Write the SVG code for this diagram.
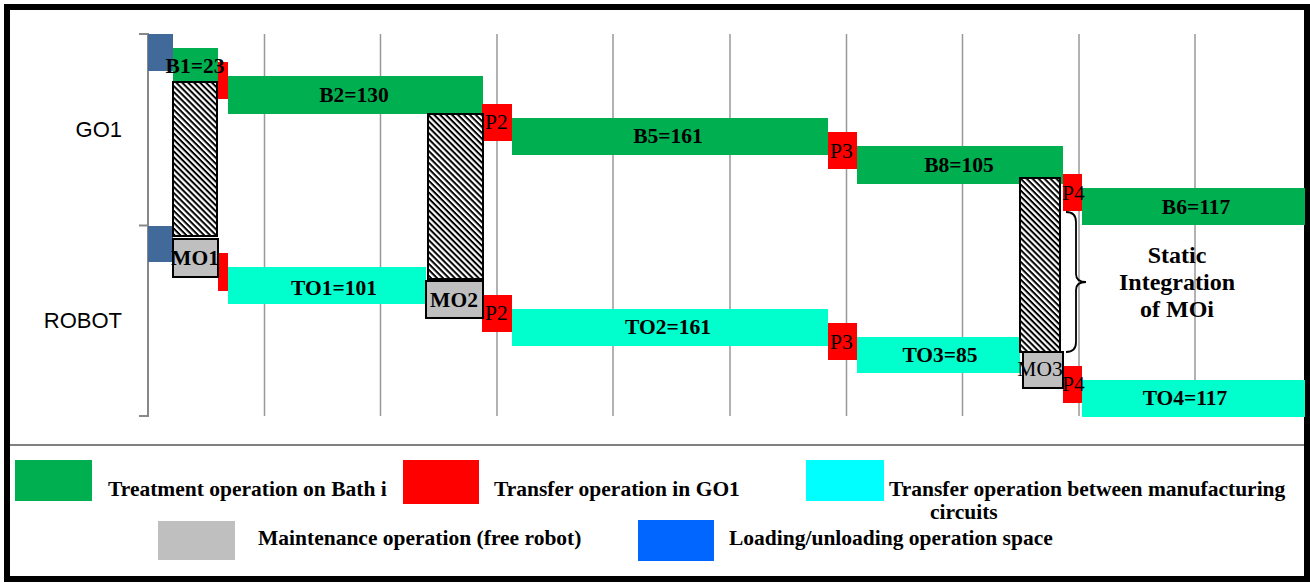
<svg xmlns="http://www.w3.org/2000/svg" width="1310" height="583" viewBox="0 0 1310 583">
<defs>
<pattern id="hatch" patternUnits="userSpaceOnUse" width="4.2" height="4.2" patternTransform="rotate(45)">
<rect width="4.2" height="4.2" fill="#fff"/>
<rect width="4.2" height="2" fill="#000"/>
</pattern>
<style>
.grid{stroke:#999;stroke-width:1.5;fill:none}
.axis{stroke:#888;stroke-width:2;fill:none}
.green{fill:#00B050}
.red{fill:#FF0000}
.cyan{fill:#00FFCC}
.load{fill:#41699A}
.hatch{fill:url(#hatch);stroke:#000;stroke-width:2}
.mo{fill:#BFBFBF;stroke:#000;stroke-width:2}
.lbl{font-family:"Liberation Serif","Times New Roman",serif;font-weight:bold;font-size:21.5px;fill:#000;text-anchor:middle}
.big{font-size:24px}
.p{font-family:"Liberation Serif","Times New Roman",serif;font-size:21.5px;fill:#000}
.leg{font-family:"Liberation Serif","Times New Roman",serif;font-weight:bold;font-size:21.5px;fill:#000}
.row{font-family:"Liberation Sans",Arial,sans-serif;font-size:22px;fill:#000;text-anchor:end}
</style>
</defs>
<rect x="0" y="0" width="1310" height="583" fill="#fff"/>
<rect x="7" y="7" width="1300" height="572" fill="#fff" stroke="#000" stroke-width="6"/>
<line x1="10" y1="445" x2="1304" y2="445" stroke="#808080" stroke-width="2"/>

<g id="grid">
<line class="grid" x1="264.5" y1="34" x2="264.5" y2="416"/>
<line class="grid" x1="380.5" y1="34" x2="380.5" y2="416"/>
<line class="grid" x1="497" y1="34" x2="497" y2="416"/>
<line class="grid" x1="613" y1="34" x2="613" y2="416"/>
<line class="grid" x1="730" y1="34" x2="730" y2="416"/>
<line class="grid" x1="846.5" y1="34" x2="846.5" y2="416"/>
<line class="grid" x1="962.5" y1="34" x2="962.5" y2="416"/>
<line class="grid" x1="1079" y1="34" x2="1079" y2="416"/>
<line class="grid" x1="1195" y1="34" x2="1195" y2="416"/>
<path class="axis" d="M139 34H148V416H139M139 225.5H148"/>
</g>

<g id="row-labels">
<text class="row" x="122" y="137">GO1</text>
<text class="row" x="122" y="328">ROBOT</text>
</g>

<g id="loading">
<rect class="load" x="148" y="34" width="25" height="37"/>
<rect class="load" x="148" y="226" width="25" height="36"/>
</g>

<g id="B1"><rect class="green" x="173" y="48" width="45" height="33"/></g>
<g id="T1a"><rect class="red" x="218" y="62" width="10" height="37"/></g>
<g id="B2"><rect class="green" x="228" y="76" width="255" height="38"/></g>
<g id="T1b"><rect class="red" x="218" y="253" width="10" height="38"/></g>
<g id="TO1"><rect class="cyan" x="228" y="267" width="198" height="37"/></g>
<g id="P2a"><rect class="red" x="482" y="104" width="30" height="37"/></g>
<g id="B5"><rect class="green" x="512" y="118" width="316" height="37"/></g>
<g id="P2b"><rect class="red" x="482" y="295" width="30" height="37"/></g>
<g id="TO2"><rect class="cyan" x="512" y="309" width="316" height="37"/></g>
<g id="P3a"><rect class="red" x="828" y="132" width="29" height="37"/></g>
<g id="B8"><rect class="green" x="857" y="146" width="206" height="38"/></g>
<g id="P3b"><rect class="red" x="828" y="323" width="29" height="37"/></g>
<g id="TO3"><rect class="cyan" x="857" y="337" width="163" height="36"/></g>
<g id="P4a"><rect class="red" x="1063" y="174" width="19" height="37"/></g>
<g id="B6"><rect class="green" x="1082" y="188" width="223" height="37"/></g>
<g id="P4b"><rect class="red" x="1063" y="366" width="19" height="37"/></g>
<g id="TO4"><rect class="cyan" x="1082" y="380" width="223" height="37"/></g>

<g id="HM1"><rect class="hatch" x="173" y="82" width="44" height="154"/></g>
<g id="MO1"><rect class="mo" x="173" y="239" width="45" height="38"/></g>
<g id="HM2"><rect class="hatch" x="428" y="114" width="55" height="165"/></g>
<g id="MO2"><rect class="mo" x="426" y="281" width="57" height="37"/></g>
<g id="HM3"><rect class="hatch" x="1020" y="178" width="40" height="174"/></g>
<g id="MO3"><rect class="mo" x="1023" y="352" width="40" height="36"/></g>

<g id="connectors">
<path d="M1066 212Q1076 212 1076 222V274Q1076 282 1086 282Q1076 282 1076 290V342Q1076 352 1066 352" fill="none" stroke="#000" stroke-width="1.8"/>
</g>

<g id="labels">
<text class="lbl" x="195" y="73">B1=23</text>
<text class="lbl" x="354" y="102">B2=130</text>
<text class="lbl" x="334" y="295">TO1=101</text>
<text class="lbl" x="195" y="265">MO1</text>
<text class="lbl" x="454" y="307">MO2</text>
<text class="p" x="485" y="129">P2</text>
<text class="p" x="485" y="320">P2</text>
<text class="lbl" x="668" y="143">B5=161</text>
<text class="lbl" x="668" y="334">TO2=161</text>
<text class="p" x="830" y="158">P3</text>
<text class="p" x="830" y="349">P3</text>
<text class="lbl" x="959" y="172">B8=105</text>
<text class="lbl" x="940" y="362">TO3=85</text>
<text class="p" x="1062" y="200">P4</text>
<text class="p" x="1062" y="391">P4</text>
<text class="p" x="1040" y="376" text-anchor="middle" font-size="23">MO3</text>
<text class="lbl" x="1196" y="214">B6=117</text>
<text class="lbl" x="1185" y="405">TO4=117</text>
<text class="lbl big" x="1177" y="263">Static</text>
<text class="lbl big" x="1177" y="290">Integration</text>
<text class="lbl big" x="1177" y="317">of MOi</text>
</g>

<g id="legend">
<rect class="green" x="15" y="460" width="77" height="41"/>
<text class="leg" x="108" y="496">Treatment operation on Bath i</text>
<rect class="red" x="403" y="460" width="76" height="44"/>
<text class="leg" x="494" y="496">Transfer operation in GO1</text>
<rect x="806" y="460" width="78" height="41" fill="#00FFFF"/>
<text class="leg" x="889" y="496">Transfer operation between manufacturing</text>
<text class="leg" x="930" y="519">circuits</text>
<rect x="158" y="521" width="77" height="39" fill="#BFBFBF"/>
<text class="leg" x="258" y="545">Maintenance operation (free robot)</text>
<rect x="638" y="520" width="76" height="41" fill="#0066FF"/>
<text class="leg" x="729" y="545">Loading/unloading operation space</text>
</g>
</svg>
